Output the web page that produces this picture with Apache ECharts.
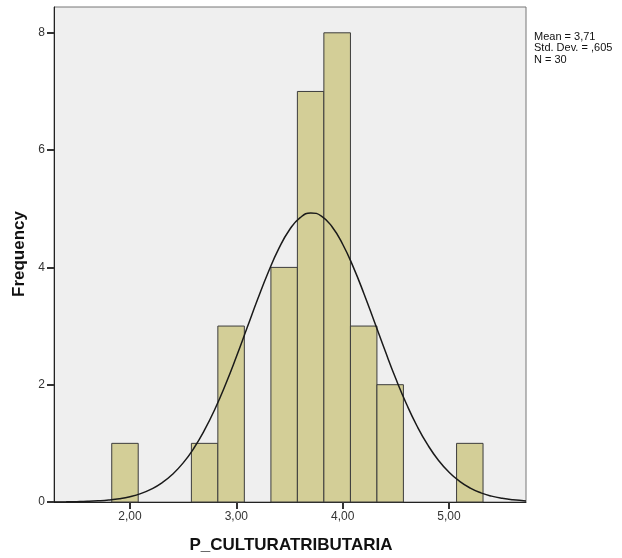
<!DOCTYPE html>
<html>
<head>
<meta charset="utf-8">
<script src="https://cdn.jsdelivr.net/npm/echarts@6/dist/echarts.min.js"></script>
<style>
html,body{margin:0;padding:0;background:#fff;}
#c{width:622px;height:558px;}
</style>
</head>
<body>
<div id="c"></div>
<script>
// Histogram bins (bin start, bin end, frequency)
const binStart = [1.828, 2.577, 2.826, 3.325, 3.574, 3.823, 4.073, 4.322, 5.071];
const binEnd   = [2.077, 2.826, 3.075, 3.574, 3.823, 4.073, 4.322, 4.571, 5.320];
const counts   = [1, 1, 3, 4, 7, 8, 3, 2, 1];

// Normal curve points
const curveX = [1.285, 1.4, 1.5, 1.6, 1.7, 1.8, 1.9, 2.0, 2.1, 2.2, 2.3, 2.4, 2.5, 2.6, 2.7, 2.8, 2.9,
  3.0, 3.1, 3.2, 3.3, 3.4, 3.5, 3.6, 3.7, 3.8, 3.9, 4.0, 4.1, 4.2, 4.3, 4.4, 4.5, 4.6, 4.7, 4.8,
  4.9, 5.0, 5.1, 5.2, 5.3, 5.4, 5.5, 5.6, 5.724];
const curveY = [0.002, 0.003, 0.006, 0.011, 0.020, 0.034, 0.056, 0.091, 0.143, 0.219, 0.326, 0.473,
  0.667, 0.916, 1.224, 1.591, 2.012, 2.476, 2.965, 3.456, 3.918, 4.324, 4.642, 4.849, 4.929, 4.876,
  4.693, 4.395, 4.005, 3.552, 3.065, 2.573, 2.101, 1.671, 1.292, 0.973, 0.712, 0.508, 0.352, 0.237,
  0.156, 0.100, 0.062, 0.037, 0.019];

const xTicks = [2, 3, 4, 5];
const yTicks = [0, 2, 4, 6, 8];
const xName = 'P_CULTURATRIBUTARIA';
const yName = 'Frequency';
const statsLines = ['Mean = 3,71', 'Std. Dev. = ,605', 'N = 30'];

const xMin = 1.285, xMax = 5.724, yMin = 0, yMax = 8.44;

const barData = binStart.map((s, i) => [s, binEnd[i], counts[i]]);
const curveData = curveX.map((x, i) => [x, curveY[i]]);

const chart = echarts.init(document.getElementById('c'), null, {renderer: 'canvas'});
const FONT = 'Liberation Sans, Arial, sans-serif';

chart.setOption({
  animation: false,
  backgroundColor: '#ffffff',
  grid: {
    left: 54, top: 7, right: 96, bottom: 56,
    show: true, backgroundColor: '#efefef', borderColor: '#777', borderWidth: 1
  },
  xAxis: {
    type: 'value', min: xMin, max: xMax,
    axisLine: {show: true, onZero: false, lineStyle: {color: '#222', width: 1}},
    axisTick: {show: true, length: 7, customValues: xTicks, lineStyle: {color: '#333', width: 2}},
    axisLabel: {
      customValues: xTicks, margin: 9, color: '#333', fontSize: 12, fontFamily: FONT,
      formatter: v => v.toFixed(2).replace('.', ',')
    },
    splitLine: {show: false}
  },
  yAxis: {
    type: 'value', min: yMin, max: yMax,
    axisLine: {show: true, onZero: false, lineStyle: {color: '#222', width: 1}},
    axisTick: {show: true, length: 7, customValues: yTicks, lineStyle: {color: '#333', width: 2}},
    axisLabel: {customValues: yTicks, margin: 9, color: '#333', fontSize: 12, fontFamily: FONT},
    splitLine: {show: false}
  },
  series: [
    {
      type: 'custom',
      data: barData,
      encode: {x: [0, 1], y: 2},
      renderItem: function (params, api) {
        const p0 = api.coord([api.value(0), api.value(2)]);
        const p1 = api.coord([api.value(1), 0]);
        return {
          type: 'rect',
          shape: {x: p0[0], y: p0[1], width: p1[0] - p0[0], height: p1[1] - p0[1]},
          style: {fill: '#d3ce97', stroke: '#3c3c3c', lineWidth: 1}
        };
      },
      z: 2
    },
    {
      type: 'line',
      data: curveData,
      smooth: true,
      showSymbol: false,
      lineStyle: {color: '#1a1a1a', width: 1.5},
      z: 3
    }
  ],
  graphic: [
    {
      type: 'text', x: 19.5, y: 254, rotation: Math.PI / 2,
      style: {text: yName, font: 'bold 17px ' + FONT, fill: '#111', align: 'center', verticalAlign: 'middle'}
    },
    {
      type: 'text', x: 291, y: 545,
      style: {text: xName, font: 'bold 17px ' + FONT, fill: '#111', align: 'center', verticalAlign: 'middle'}
    },
    {
      type: 'text', x: 534, y: 37,
      style: {text: statsLines[0], font: '11px ' + FONT, fill: '#111', align: 'left', verticalAlign: 'middle'}
    },
    {
      type: 'text', x: 534, y: 48.3,
      style: {text: statsLines[1], font: '11px ' + FONT, fill: '#111', align: 'left', verticalAlign: 'middle'}
    },
    {
      type: 'text', x: 534, y: 59.6,
      style: {text: statsLines[2], font: '11px ' + FONT, fill: '#111', align: 'left', verticalAlign: 'middle'}
    }
  ]
});
</script>
</body>
</html>
